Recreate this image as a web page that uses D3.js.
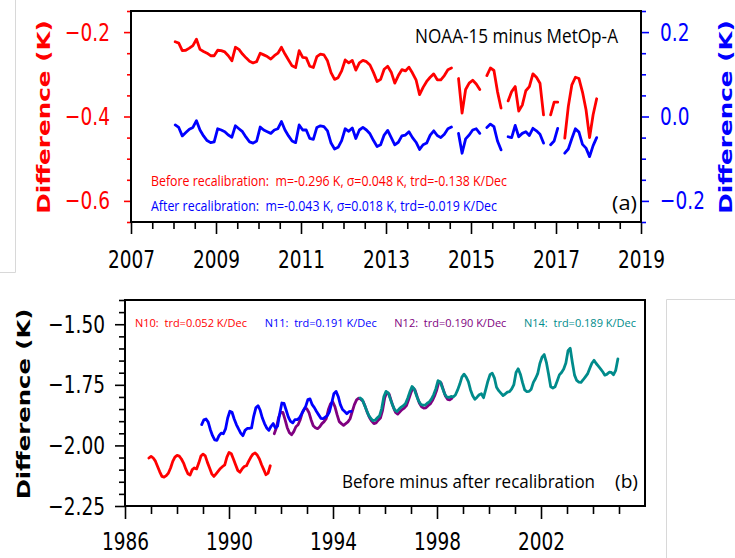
<!DOCTYPE html>
<html>
<head>
<meta charset="utf-8">
<script src="https://cdn.jsdelivr.net/npm/d3@7"></script>
<style>
  body { margin: 0; background: #fff; }
  svg { display: block; }
  text { white-space: pre; }
</style>
</head>
<body>
<svg id="chart" width="735" height="558"></svg>
<script>
// panel (a): NOAA-15 minus MetOp-A, monthly from Jan 2008
const topStart = 2008.04;
const beforeRecal = [
  -0.223, -0.226, -0.244, -0.243, -0.238, -0.232, -0.217, -0.241, -0.246, -0.250,
  -0.256, -0.256, -0.243, -0.244, -0.247, -0.256, -0.268, -0.236, -0.241, -0.252,
  -0.261, -0.269, -0.273, -0.270, -0.250, -0.254, -0.258, -0.264, -0.256, -0.250,
  -0.236, -0.252, -0.266, -0.280, -0.284, -0.244, -0.260, -0.261, -0.281, -0.284,
  -0.258, -0.252, -0.254, -0.268, -0.296, -0.312, -0.308, -0.292, -0.266, -0.273,
  -0.267, -0.290, -0.273, -0.267, -0.270, -0.278, -0.296, -0.317, -0.312, -0.288,
  -0.281, -0.295, -0.321, -0.303, -0.289, -0.292, -0.283, -0.297, -0.313, -0.348,
  -0.331, -0.317, -0.307, -0.299, -0.313, -0.313, -0.303, -0.289, -0.285, null,
  -0.310, -0.392, -0.336, -0.321, -0.314, -0.323, -0.336, null, -0.303, -0.285,
  -0.291, -0.341, -0.380, null, -0.363, -0.341, -0.329, -0.387, -0.373, -0.339,
  -0.329, -0.299, -0.307, -0.321, -0.396, null, -0.396, -0.366, -0.366, null,
  -0.451, -0.376, -0.325, -0.307, -0.310, -0.342, -0.384, -0.450, -0.396, -0.358
];
const afterRecal = [
  -0.020, -0.026, -0.046, -0.038, -0.030, -0.026, -0.010, -0.032, -0.046, -0.057,
  -0.062, -0.060, -0.029, -0.032, -0.036, -0.044, -0.049, -0.022, -0.029, -0.036,
  -0.049, -0.060, -0.063, -0.058, -0.025, -0.032, -0.036, -0.040, -0.032, -0.029,
  -0.012, -0.032, -0.046, -0.058, -0.062, -0.020, -0.032, -0.032, -0.052, -0.054,
  -0.026, -0.022, -0.024, -0.034, -0.063, -0.077, -0.073, -0.057, -0.029, -0.035,
  -0.027, -0.052, -0.032, -0.026, -0.032, -0.041, -0.057, -0.071, -0.067, -0.044,
  -0.033, -0.050, -0.067, -0.061, -0.046, -0.044, -0.036, -0.050, -0.061, -0.078,
  -0.067, -0.063, -0.044, -0.034, -0.045, -0.050, -0.042, -0.029, -0.025, null,
  -0.040, -0.087, -0.053, -0.044, -0.032, -0.029, -0.040, null, -0.026, -0.018,
  -0.024, -0.058, -0.079, null, -0.048, -0.050, -0.021, -0.048, -0.040, -0.036,
  -0.045, -0.028, -0.034, -0.042, -0.063, null, -0.067, -0.058, -0.028, null,
  -0.087, -0.077, -0.052, -0.029, -0.037, -0.066, -0.075, -0.095, -0.069, -0.050
];
const topYearTicks = [2007, 2009, 2011, 2013, 2015, 2017, 2019];
const beforeTicks = [-0.6, -0.4, -0.2];
const afterTicks = [-0.2, 0.0, 0.2];
const topTitle = 'NOAA-15 minus MetOp-A';
const beforeNote = 'Before recalibration:  m=-0.296 K, σ=0.048 K, trd=-0.138 K/Dec';
const afterNote = 'After recalibration:  m=-0.043 K, σ=0.018 K, trd=-0.019 K/Dec';

// panel (b): before minus after recalibration, monthly
const n10Start = 1986.92;
const n10 = [
  -2.052, -2.045, -2.052, -2.065, -2.087, -2.109, -2.128, -2.131, -2.125, -2.114, -2.093, -2.066,
  -2.048, -2.041, -2.044, -2.056, -2.073, -2.097, -2.117, -2.122, -2.100, -2.093, -2.097, -2.073,
  -2.044, -2.036, -2.043, -2.070, -2.093, -2.117, -2.128, -2.117, -2.106, -2.095, -2.087, -2.080,
  -2.048, -2.029, -2.034, -2.056, -2.080, -2.103, -2.111, -2.097, -2.087, -2.084, -2.066, -2.049,
  -2.036, -2.031, -2.040, -2.056, -2.080, -2.100, -2.121, -2.114, -2.084
];
const n11Start = 1988.95;
const n11 = [
  -1.914, -1.894, -1.891, -1.904, -1.935, -1.960, -1.977, -1.979, -1.960, -1.949, -1.952, -1.932,
  -1.887, -1.859, -1.863, -1.891, -1.914, -1.932, -1.949, -1.960, -1.938, -1.930, -1.930, -1.928,
  -1.880, -1.845, -1.836, -1.855, -1.887, -1.910, -1.928, -1.938, -1.921, -1.910, -1.928, -1.921,
  -1.869, -1.825, -1.827, -1.855, -1.883, -1.901, -1.907, -1.894, -1.894, -1.888, -1.872, -1.855,
  -1.839, -1.811, -1.808, -1.832, -1.844, -1.860, -1.874, -1.888, -1.890, -1.883, -1.877, -1.860,
  -1.825, -1.787, -1.777, -1.798, -1.832, -1.852, -1.860, -1.869, -1.861, -1.860
];
const n12Start = 1991.74;
const n12 = [
  -1.952, -1.927, -1.885, -1.864, -1.864, -1.894, -1.927, -1.948, -1.956, -1.943, -1.923, -1.915,
  -1.894, -1.864, -1.848, -1.848, -1.864, -1.894, -1.919, -1.927, -1.931, -1.923, -1.910, -1.902,
  -1.890, -1.852, -1.828, -1.820, -1.840, -1.873, -1.902, -1.910, -1.917, -1.910, -1.903, -1.890,
  -1.860, -1.832, -1.812, -1.805, -1.810, -1.818, -1.840, -1.865, -1.886, -1.900, -1.910, -1.907,
  -1.896, -1.887, -1.855, -1.803, -1.781, -1.788, -1.816, -1.843, -1.864, -1.871, -1.861, -1.852,
  -1.846, -1.836, -1.812, -1.785, -1.762, -1.772, -1.800, -1.826, -1.841, -1.846, -1.845, -1.836,
  -1.829, -1.815, -1.796, -1.771, -1.737, -1.742, -1.769, -1.796, -1.810, -1.812, -1.806
];
const n14Start = 1995.04;
const n14 = [
  -1.804, -1.811, -1.832, -1.855, -1.876, -1.889, -1.898, -1.896, -1.886, -1.878, -1.848, -1.798,
  -1.777, -1.783, -1.809, -1.834, -1.853, -1.860, -1.850, -1.842, -1.836, -1.827, -1.805, -1.779,
  -1.757, -1.767, -1.793, -1.816, -1.830, -1.834, -1.834, -1.826, -1.820, -1.808, -1.790, -1.766,
  -1.733, -1.737, -1.762, -1.787, -1.800, -1.802, -1.798, -1.800, -1.792, -1.772, -1.748, -1.718,
  -1.706, -1.718, -1.737, -1.771, -1.795, -1.810, -1.801, -1.791, -1.787, -1.803, -1.770, -1.735,
  -1.708, -1.702, -1.721, -1.760, -1.774, -1.784, -1.794, -1.788, -1.780, -1.778, -1.767, -1.749,
  -1.699, -1.684, -1.706, -1.741, -1.771, -1.778, -1.777, -1.768, -1.740, -1.724, -1.704, -1.662,
  -1.636, -1.625, -1.657, -1.705, -1.758, -1.763, -1.758, -1.734, -1.709, -1.699, -1.685, -1.660,
  -1.609, -1.599, -1.658, -1.710, -1.732, -1.739, -1.740, -1.729, -1.717, -1.705, -1.683, -1.661,
  -1.649, -1.662, -1.673, -1.684, -1.696, -1.710, -1.706, -1.698, -1.699, -1.708, -1.690, -1.643
];
const botYearTicks = [1986, 1990, 1994, 1998, 2002];
const botValueTicks = [-2.25, -2.00, -1.75, -1.50];
const satNotes = [
  { name: 'N10', text: 'N10:  trd=0.052 K/Dec' },
  { name: 'N11', text: 'N11:  trd=0.191 K/Dec' },
  { name: 'N12', text: 'N12:  trd=0.190 K/Dec' },
  { name: 'N14', text: 'N14:  trd=0.189 K/Dec' }
];
const botNote = 'Before minus after recalibration';

const colors = { before: '#ff0000', after: '#0000ff', N10: '#ff0000', N11: '#0000ff', N12: '#800080', N14: '#008b8b' };

const svg = d3.select('#chart');
const TICK_FONT = 'DejaVu Sans, sans-serif';
const NOTE_FONT = 'Open Sans, sans-serif';
const SY = 1.35;

const monthly = (start, values) => values.map((v, i) => ({ t: start + i / 12, v }));
const steps = (a, b, s) => d3.range(Math.round((b - a) / s) + 1).map(i => +(a + i * s).toFixed(4));

function label(g, x, y, str, o = {}) {
  const t = g.append('text')
    .attr('transform', `translate(${x},${y}) scale(1,${o.sy || SY})${o.rotate ? ' rotate(-90)' : ''}`)
    .attr('text-anchor', o.anchor || 'start')
    .attr('font-family', o.family || NOTE_FONT)
    .attr('font-size', o.size || 12)
    .attr('font-weight', o.weight || 'normal')
    .attr('fill', o.color || '#000')
    .text(str);
  if (o.len) t.attr('textLength', o.len).attr('lengthAdjust', 'spacingAndGlyphs');
  return t;
}

function axis(g, ax, color, labels) {
  g.call(ax);
  g.select('.domain').remove();
  g.selectAll('line').attr('stroke', color).attr('stroke-width', 1.6);
  g.selectAll('text')
    .attr('fill', color)
    .attr('font-family', TICK_FONT)
    .attr('font-size', 18.5)
    .attr('transform', `scale(1,${SY})`);
  if (labels) labels(g.selectAll('text'));
}

function frame(g, box) {
  g.append('rect')
    .attr('x', box.left).attr('y', box.top)
    .attr('width', box.right - box.left).attr('height', box.bottom - box.top)
    .attr('fill', 'none').attr('stroke', '#000').attr('stroke-width', 2);
}

function drawLine(g, data, x, y, color) {
  const path = d3.line()
    .defined(d => d.v != null)
    .x(d => x(d.t))
    .y(d => y(d.v));
  g.append('path')
    .attr('d', path(data))
    .attr('fill', 'none')
    .attr('stroke', color)
    .attr('stroke-width', 2.8)
    .attr('stroke-linejoin', 'round')
    .attr('stroke-linecap', 'round');
}

// faint page edges from the composed figure
const edges = svg.append('g').attr('stroke', '#d8d8d8').attr('stroke-width', 1).attr('fill', 'none');
edges.append('path').attr('d', 'M15.5,0V272.5H0');
edges.append('path').attr('d', 'M735,299.5H666.5V558');

// ---------- panel (a)
const topBox = { left: 131, right: 641, top: 11, bottom: 222 };
const xTop = d3.scaleLinear().domain([2007, 2019]).range([topBox.left, topBox.right]);
const yBefore = d3.scaleLinear().domain([-0.65, -0.15]).range([topBox.bottom, topBox.top]);
const yAfter = d3.scaleLinear().domain([-0.25, 0.25]).range([topBox.bottom, topBox.top]);

const ga = svg.append('g');

const xMinorTop = steps(2007, 2019, 0.5).filter(d => !topYearTicks.includes(d));
axis(ga.append('g').attr('transform', `translate(0,${topBox.bottom})`),
  d3.axisBottom(xTop).tickValues(xMinorTop).tickSize(7).tickFormat(''), '#000');
axis(ga.append('g').attr('transform', `translate(0,${topBox.bottom})`),
  d3.axisBottom(xTop).tickValues(topYearTicks).tickSize(12).tickFormat(d3.format('d')), '#000',
  t => t.attr('y', 46 / SY).attr('dy', 0));

const beforeMinor = steps(-0.65, -0.15, 0.05).filter(d => !beforeTicks.includes(d));
axis(ga.append('g').attr('transform', `translate(${topBox.left},0)`),
  d3.axisLeft(yBefore).tickValues(beforeMinor).tickSize(4).tickFormat(''), colors.before);
axis(ga.append('g').attr('transform', `translate(${topBox.left},0)`),
  d3.axisLeft(yBefore).tickValues(beforeTicks).tickSize(7).tickPadding(14).tickFormat(d3.format('.1f')), colors.before);

const afterMinor = steps(-0.25, 0.25, 0.05).filter(d => !afterTicks.includes(d));
axis(ga.append('g').attr('transform', `translate(${topBox.right},0)`),
  d3.axisRight(yAfter).tickValues(afterMinor).tickSize(5).tickFormat(''), colors.after);
axis(ga.append('g').attr('transform', `translate(${topBox.right},0)`),
  d3.axisRight(yAfter).tickValues(afterTicks).tickSize(8).tickPadding(11).tickFormat(d3.format('.1f')), colors.after);

drawLine(ga, monthly(topStart, beforeRecal), xTop, yBefore, colors.before);
drawLine(ga, monthly(topStart, afterRecal), xTop, yAfter, colors.after);
frame(ga, topBox);

label(ga, 415, 43, topTitle, { size: 16, sy: 1.3, len: 203 });
label(ga, 151, 186, beforeNote, { size: 11, sy: 1.3, len: 356, color: colors.before });
label(ga, 151, 211, afterNote, { size: 11, sy: 1.3, len: 346, color: colors.after });
label(ga, 612, 210, '(a)', { size: 16, sy: 1.3, len: 25 });

label(ga, 50, 117, 'Difference (K)', { family: TICK_FONT, weight: 'bold', size: 18, sy: 1.37, rotate: true, anchor: 'middle', color: colors.before });
label(ga, 732, 117, 'Difference (K)', { family: TICK_FONT, weight: 'bold', size: 18, sy: 1.37, rotate: true, anchor: 'middle', color: colors.after });

// ---------- panel (b)
const botBox = { left: 125, right: 645, top: 300, bottom: 506 };
const xBot = d3.scaleLinear().domain([1986, 2006]).range([botBox.left, botBox.right]);
const yBot = d3.scaleLinear().domain([-2.25, -1.40]).range([botBox.bottom, botBox.top]);

const gb = svg.append('g');

const xMinorBot = steps(1986, 2005, 1).filter(d => !botYearTicks.includes(d));
axis(gb.append('g').attr('transform', `translate(0,${botBox.bottom})`),
  d3.axisBottom(xBot).tickValues(xMinorBot).tickSize(8).tickFormat(''), '#000');
axis(gb.append('g').attr('transform', `translate(0,${botBox.bottom})`),
  d3.axisBottom(xBot).tickValues(botYearTicks).tickSize(13).tickFormat(d3.format('d')), '#000',
  t => t.attr('y', 44 / SY).attr('dy', 0));

const yMinorBot = steps(-2.25, -1.40, 0.05).filter(d => !botValueTicks.includes(d));
axis(gb.append('g').attr('transform', `translate(${botBox.left},0)`),
  d3.axisLeft(yBot).tickValues(yMinorBot).tickSize(6).tickFormat(''), '#000');
axis(gb.append('g').attr('transform', `translate(${botBox.left},0)`),
  d3.axisLeft(yBot).tickValues(botValueTicks).tickSize(10).tickPadding(10).tickFormat(d3.format('.2f')), '#000');

drawLine(gb, monthly(n10Start, n10), xBot, yBot, colors.N10);
drawLine(gb, monthly(n12Start, n12), xBot, yBot, colors.N12);
drawLine(gb, monthly(n11Start, n11), xBot, yBot, colors.N11);
drawLine(gb, monthly(n14Start, n14), xBot, yBot, colors.N14);
frame(gb, botBox);

const noteX = d3.scalePoint().domain(satNotes.map(d => d.name)).range([135, 524]);
satNotes.forEach(d => label(gb, noteX(d.name), 326.5, d.text, { size: 10, sy: 1.05, len: 112, color: colors[d.name] }));
label(gb, 342, 488, botNote, { size: 16.5, sy: 1.13, len: 253 });
label(gb, 615, 488, '(b)', { size: 16, sy: 1.13, len: 23 });

label(gb, 30, 404, 'Difference (K)', { family: TICK_FONT, weight: 'bold', size: 18, sy: 1.35, rotate: true, anchor: 'middle' });
</script>
</body>
</html>
